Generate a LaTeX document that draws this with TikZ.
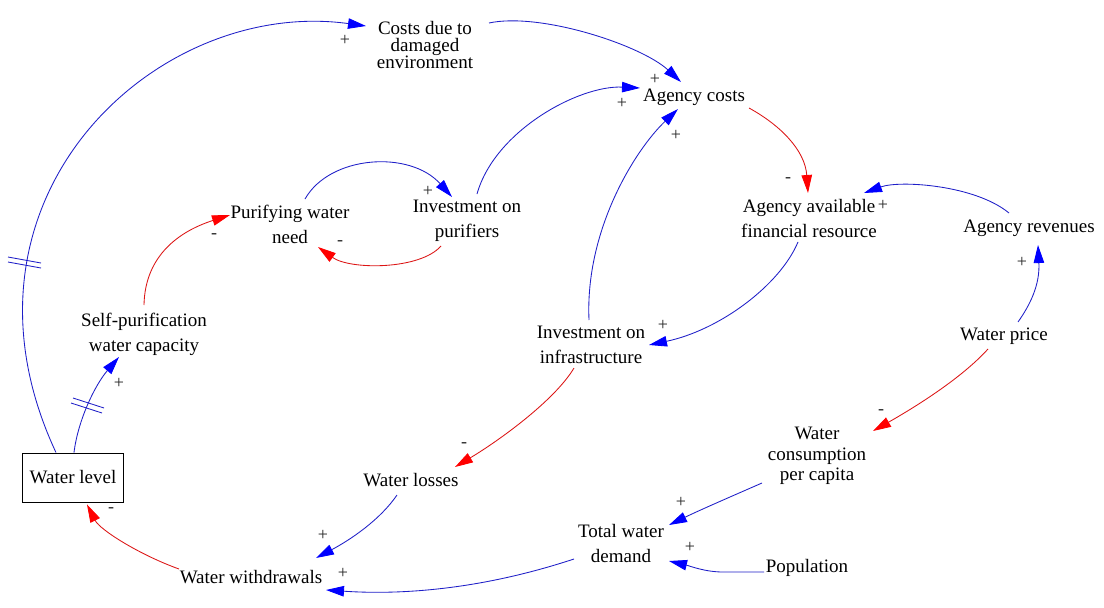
\documentclass[tikz,border=0pt]{standalone}
\usepackage{fontspec}
\setmainfont{Liberation Serif}
\usetikzlibrary{arrows.meta,calc}
\definecolor{cldblue}{RGB}{30,30,200}
\definecolor{cldred}{RGB}{220,20,20}
\definecolor{cldblueA}{RGB}{0,0,255}
\definecolor{cldredA}{RGB}{255,0,0}
\newcommand\cldtight{\lineskiplimit=-40pt\relax}
\newcommand\cldfontA{\fontsize{19}{25}\selectfont\cldtight}
\newcommand\cldfontB{\fontsize{19}{17}\selectfont\cldtight}
\newcommand\cldfontC{\fontsize{19}{20.5}\selectfont\cldtight}
\begin{document}
\begin{tikzpicture}[x=1pt,y=-1pt,
  var/.style={inner sep=0pt, align=center, font=\cldfontA},
  pol/.style={inner sep=0pt, text=black!85, font=\fontsize{18}{18}\selectfont},
  lnkp/.style={draw=cldblue, line width=0.85pt, -{Triangle[length=18pt,width=10.5pt,color=cldblueA]}},
  lnkn/.style={draw=cldred, line width=0.85pt, -{Triangle[length=18pt,width=10.5pt,color=cldredA]}},
  delaymark/.style={draw=cldblue, line width=0.85pt},
  stock/.style={draw=black, line width=0.9pt, minimum width=101pt, minimum height=49pt, inner sep=0pt, font=\cldfontA}
]
\useasboundingbox[fill=white] (0,0) rectangle (1104,608);

% variables
\node[stock] (wl) at (73,477.5) {Water level};
\node[var, font=\cldfontB] (costs) at (425,45) {Costs due to\\damaged\\environment};
\node[var] (ac) at (694,97) {Agency costs};
\node[var] (aa) at (809,218) {Agency available\\financial resource};
\node[var] (ar) at (1029,228) {Agency revenues};
\node[var] (wp) at (1004,336) {Water price};
\node[var, font=\cldfontC] (wc) at (817,456) {Water\\consumption\\per capita};
\node[var] (td) at (621,543) {Total water\\demand};
\node[var] (pop) at (807,568) {Population};
\node[var] (ii) at (591,345) {Investment on\\infrastructure};
\node[var] (wlo) at (411,480) {Water losses};
\node[var] (ww) at (251,577) {Water withdrawals};
\node[var] (sp) at (144,334) {Self-purification\\water capacity};
\node[var] (pw) at (290,224) {Purifying water\\need};
\node[var] (ip) at (467,221) {Investment on\\purifiers};

% connectors
\draw[lnkp] ($(wl.north)+(-17,0)$) .. controls (-62,200) and (155,-3) .. ($(costs)+(-59,-19)$);
\draw[lnkp] ($(wl.north)+(1,0)$) .. controls (78,420) and (95,385) .. ($(sp)+(-25,23)$);
\draw[lnkn] ($(sp)+(0,-29)$) .. controls (145,255) and (180,231) .. ($(pw)+(-60,-9)$);
\draw[lnkp] ($(pw)+(15,-25)$) .. controls (330,155) and (410,150) .. ($(ip)+(-15,-24)$);
\draw[lnkn] ($(ip)+(-26,25)$) .. controls (420,270) and (350,270) .. ($(pw)+(28,23)$);
\draw[lnkp] ($(ip)+(10,-27)$) .. controls (495,130) and (580,85) .. ($(ac)+(-54,-9)$);
\draw[lnkp] ($(costs)+(64,-22)$) .. controls (540,12) and (641,45) .. ($(ac)+(-13,-15)$);
\draw[lnkp] ($(ii)+(-2,-25)$) .. controls (585,230) and (635,150) .. ($(ac)+(-16,12)$);
\draw[lnkn] ($(ac)+(55,11)$) .. controls (780,125) and (805,150) .. ($(aa)+(-1,-25)$);
\draw[lnkp] ($(ar)+(-20,-15)$) .. controls (975,185) and (900,180) .. ($(aa)+(55,-25)$);
\draw[lnkp] ($(aa)+(-11,24)$) .. controls (780,285) and (720,330) .. ($(ii)+(58,0)$);
\draw[lnkp] ($(wp)+(14,-14)$) .. controls (1030,305) and (1040,285) .. ($(ar)+(9,17)$);
\draw[lnkn] ($(wp)+(-16,13)$) .. controls (960,380) and (910,410) .. ($(wc)+(56,-25)$);
\draw[lnkn] ($(ii)+(-17,23)$) .. controls (555,400) and (500,440) .. ($(wlo)+(44,-13)$);
\draw[lnkp] ($(wlo)+(-14,15)$) .. controls (380,520) and (350,540) .. ($(ww)+(65,-19)$);
\draw[lnkn] ($(ww)+(-72,-8)$) .. controls (140,555) and (100,530) .. ($(wl.south)+(14,2)$);
\draw[lnkp] ($(td)+(-47,16)$) .. controls (480,590) and (400,595) .. ($(ww)+(75,13)$);
\draw[lnkp] ($(wc)+(-55,27)$) .. controls (730,497) and (700,510) .. ($(td)+(48,-18)$);
\draw[lnkp] ($(pop)+(-43,4)$) -- ($(pop)+(-84,4)$) .. controls (705,572) and (690,566) .. ($(td)+(48,18)$);

% delay marks
\draw[delaymark] (8,257) -- (41,263);
\draw[delaymark] (8,262) -- (41,268);
\draw[delaymark] (73,398) -- (104,408);
\draw[delaymark] (71,403) -- (102,413);

% polarities
\node[pol] (p1) at (345,40) {+};
\node[pol] (p2) at (119,383) {+};
\node[pol] (p3) at (214,236) {-};
\node[pol] (p4) at (428,191) {+};
\node[pol] (p5) at (340,243) {-};
\node[pol] (p6) at (622,103) {+};
\node[pol] (p7) at (655,79) {+};
\node[pol] (p8) at (676,135) {+};
\node[pol] (p9) at (788,180) {-};
\node[pol] (p10) at (883,205) {+};
\node[pol] (p11) at (663,325) {+};
\node[pol] (p12) at (1022,262) {+};
\node[pol] (p13) at (881,412) {-};
\node[pol] (p14) at (464,445) {-};
\node[pol] (p15) at (323,535) {+};
\node[pol] (p16) at (111,510) {-};
\node[pol] (p17) at (343,573) {+};
\node[pol] (p18) at (681,502) {+};
\node[pol] (p19) at (690,547) {+};
\end{tikzpicture}
\end{document}
